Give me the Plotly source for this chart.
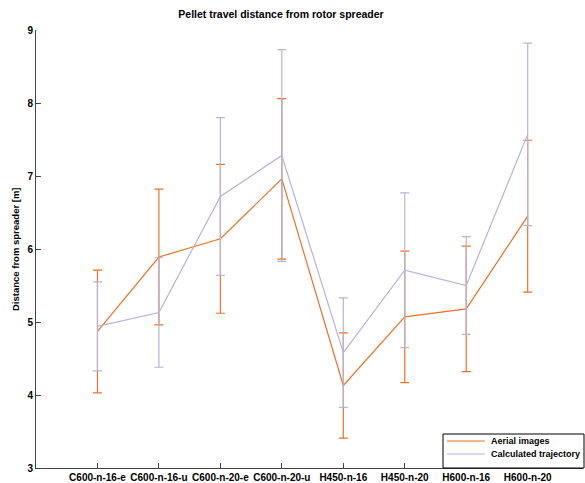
import plotly.graph_objects as go

categories = ["C600-n-16-e", "C600-n-16-u", "C600-n-20-e", "C600-n-20-u",
              "H450-n-16", "H450-n-20", "H600-n-16", "H600-n-20"]
aerial_mean = [4.87, 5.89, 6.14, 6.96, 4.13, 5.07, 5.18, 6.45]
aerial_err = [0.84, 0.93, 1.02, 1.10, 0.72, 0.90, 0.86, 1.04]
calc_mean = [4.94, 5.13, 6.72, 7.28, 4.58, 5.71, 5.50, 7.57]
calc_err = [0.61, 0.75, 1.08, 1.45, 0.75, 1.06, 0.67, 1.25]
series_names = ["Aerial images", "Calculated trajectory"]

x_pos = list(range(1, len(categories) + 1))

orange = "#EC7325"
lav = "#B8B4DA"
font_family = "Liberation Sans, Arial, sans-serif"

W, H = 585, 483
ML, MR, MT, MB = 36, 2, 30, 15
PW, PH = W - ML - MR, H - MT - MB


def px(x):
    return (x - ML) / PW


def py(y):
    return (H - MB - y) / PH


fig = go.Figure()
for mean, err, col, name in [(aerial_mean, aerial_err, orange, series_names[0]),
                             (calc_mean, calc_err, lav, series_names[1])]:
    fig.add_trace(go.Scatter(
        x=x_pos, y=mean, mode="lines", name=name, showlegend=False,
        line=dict(color=col, width=1.2),
        error_y=dict(type="data", array=err, color=col, thickness=1.2, width=4.5),
    ))

# manual legend box
shapes = [dict(type="rect", xref="paper", yref="paper",
               x0=px(443), x1=px(584), y0=py(468), y1=py(434),
               line=dict(color="black", width=1), fillcolor="white", layer="above")]
annotations = []
for i, (col, name) in enumerate(zip([orange, lav], series_names)):
    yy = 441 + 13 * i
    shapes.append(dict(type="line", xref="paper", yref="paper",
                       x0=px(447), x1=px(485), y0=py(yy), y1=py(yy),
                       line=dict(color=col, width=1.2), layer="above"))
    annotations.append(dict(text=name, xref="paper", yref="paper",
                            x=px(489), y=py(yy), xanchor="left", yanchor="middle",
                            showarrow=False,
                            font=dict(size=9, family=font_family, weight="bold")))

annotations.append(dict(text="Distance from spreader [m]", textangle=-90,
                        xref="paper", yref="paper", x=px(15), y=0.5,
                        xanchor="center", yanchor="middle", showarrow=False,
                        font=dict(size=9.5, family=font_family, weight="bold")))

fig.update_layout(
    width=W, height=H,
    margin=dict(l=ML, r=MR, t=MT, b=MB, autoexpand=False),
    plot_bgcolor="white", paper_bgcolor="white",
    font=dict(family=font_family, size=10, color="black", weight="bold"),
    title=dict(text="Pellet travel distance from rotor spreader",
               x=px(281), xref="paper", xanchor="center",
               y=1 - 14 / H, yanchor="middle",
               font=dict(size=10.5, family=font_family, weight="bold")),
    showlegend=False,
    xaxis=dict(range=[0, 8.9], tickvals=x_pos, ticktext=categories,
               ticks="inside", ticklen=5, tickcolor="#444",
               showline=True, linecolor="#444", linewidth=1,
               showgrid=False, zeroline=False),
    yaxis=dict(range=[3, 9], dtick=1, ticks="inside", ticklen=5, tickcolor="#444",
               showline=True, linecolor="#444", linewidth=1,
               showgrid=False, zeroline=False),
    shapes=shapes,
    annotations=annotations,
)

fig.write_html("out.html", config={"displayModeBar": False},
               post_script="document.body.style.margin='0';")
